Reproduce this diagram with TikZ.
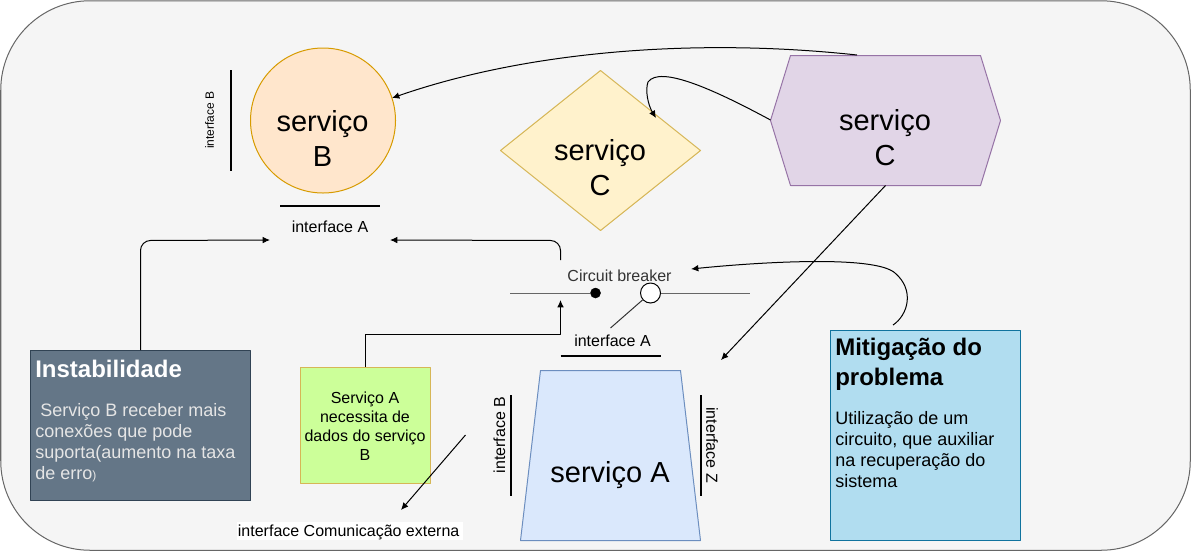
\documentclass[tikz,border=0pt]{standalone}
\usepackage{fontspec}
\setmainfont{Liberation Sans}
\usetikzlibrary{arrows.meta,shapes.geometric}
\definecolor{panelF}{HTML}{F5F5F5}
\definecolor{panelD}{HTML}{666666}
\tikzset{
  x=0.75pt,y=-0.75pt,
  arr/.style={-{Latex[length=5.5pt,width=5pt]},draw=black,line width=0.75pt},
  bar/.style={draw=black,line width=1.5pt},
  wire/.style={draw=panelD,line width=0.75pt},
  lbl/.style={inner sep=0pt,align=center,font=\fontsize{12}{14}\selectfont},
  big/.style={inner sep=0pt,align=center,font=\fontsize{21.75}{26.25}\selectfont},
  box/.style={draw,line width=0.75pt,inner sep=0pt,anchor=north west},
}
\begin{document}
\begin{tikzpicture}[line join=round]
\useasboundingbox (0,0) rectangle (1191,551);
\node[box,draw=panelD,fill=panelF,minimum width=1189.5*0.75pt,minimum height=549.5*0.75pt,rounded corners=67pt] (panel) at (0.25,0.25) {};

% services
\node[circle,draw={rgb,255:red,215;green,155;blue,0},fill={rgb,255:red,255;green,230;blue,204},line width=0.75pt,minimum size=145*0.75pt,inner sep=0pt] (svcB) at (323,120.5) {};
\node[big] (svcBt) at (322.5,138) {serviço\\B};
\path[draw={rgb,255:red,214;green,182;blue,86},fill={rgb,255:red,255;green,242;blue,204},line width=0.75pt] (500.5,150.5) -- (600.5,70.5) -- (700.5,150.5) -- (600.5,230.5) -- cycle;
\node[big] (svcCd) at (600,168) {serviço\\C};
\path[draw={rgb,255:red,150;green,115;blue,166},fill={rgb,255:red,225;green,213;blue,231},line width=0.75pt] (770.5,120.5) -- (790.5,55.5) -- (980.5,55.5) -- (1000.5,120.5) -- (980.5,185.5) -- (790.5,185.5) -- cycle;
\node[big] (svcCh) at (885,138) {serviço\\C};
\path[draw={rgb,255:red,108;green,142;blue,191},fill={rgb,255:red,218;green,232;blue,252},line width=0.75pt] (540.5,370.5) -- (680.5,370.5) -- (700.5,540.5) -- (520.5,540.5) -- cycle;
\node[big] (svcA) at (610,475) {serviço A};

% text boxes
\node[box,draw={rgb,255:red,49;green,67;blue,84},fill={rgb,255:red,100;green,118;blue,135},minimum width=220*0.75pt,minimum height=150*0.75pt] (inst) at (30,350) {};
\node[anchor=north west,inner sep=0pt,text=white,font=\bfseries\fontsize{18}{22}\selectfont] (instT) at (35,360) {Instabilidade};
\node[anchor=north west,inner sep=0pt,text=white!90!black,align=left,font=\fontsize{13.5}{15.75}\selectfont] (instB) at (35,403) {\ Serviço B receber mais\\conexões que pode\\suporta(aumento na taxa\\de erro{\fontsize{9}{9}\selectfont)}};
\node[box,draw={rgb,255:red,214;green,182;blue,86},fill={rgb,255:red,204;green,255;blue,153},minimum width=130*0.75pt,minimum height=116*0.75pt] (need) at (300,367) {};
\node[lbl,font=\fontsize{12}{14.1}\selectfont] (needT) at (365,426) {Serviço A\\necessita de\\dados do serviço\\B};
\node[box,draw={rgb,255:red,16;green,115;blue,158},fill={rgb,255:red,177;green,221;blue,240},minimum width=190*0.75pt,minimum height=210*0.75pt] (mit) at (830,330) {};
\node[anchor=north west,inner sep=0pt,align=left,font=\bfseries\fontsize{18}{22.5}\selectfont] (mitT) at (835,338) {Mitigação do\\problema};
\node[anchor=north west,inner sep=0pt,align=left,font=\fontsize{13.5}{15.75}\selectfont] (mitB) at (835,411) {Utilização de um\\circuito, que auxiliar\\na recuperação do\\sistema};

% interface labels and bars
\coordinate (b1a) at (230.5,70); \coordinate (b1b) at (230.5,170.5);
\draw[bar] (b1a) -- (b1b);
\node[lbl,rotate=90,font=\fontsize{9}{11}\selectfont] (ifBtop) at (209.5,120) {interface B};
\coordinate (b2a) at (280,205.5); \coordinate (b2b) at (380,205.5);
\draw[bar] (b2a) -- (b2b);
\node[lbl] (ifAtop) at (330,226.5) {interface A};
\node[lbl,text=black!80] (cb) at (619.5,275.5) {Circuit breaker};
\coordinate (w1) at (510,293);
\coordinate (w2) at (750,293);
\node[circle,fill=black,draw=black,minimum size=10*0.75pt,inner sep=0pt] (dot) at (595.5,293) {};
\node[circle,fill=white,draw=black,line width=0.75pt,minimum size=20*0.75pt,inner sep=0pt] (open) at (650.5,293) {};
\draw[wire] (w1) -- (dot);
\draw[wire] (open) -- (w2);
\coordinate (w3) at (610.5,328);
\draw[draw=black!80,line width=0.75pt] (w3) -- (open);
\node[lbl] (ifAlow) at (612.5,340.5) {interface A};
\coordinate (b3a) at (560.5,355.5); \coordinate (b3b) at (660.5,355.5);
\draw[bar] (b3a) -- (b3b);
\coordinate (b4a) at (510.5,395); \coordinate (b4b) at (510.5,495.5);
\draw[bar] (b4a) -- (b4b);
\node[lbl,rotate=90] (ifBlow) at (499.5,435) {interface B};
\coordinate (b5a) at (700.5,395); \coordinate (b5b) at (700.5,495.5);
\draw[bar] (b5a) -- (b5b);
\node[lbl,rotate=-90] (ifZ) at (712,445) {interface Z};
\node[lbl,fill=white,inner ysep=2.5pt,inner xsep=1pt,text depth=0pt] (ext) at (350,531) {interface Comunicação externa\hspace{2pt}};

% connectors
\coordinate (s1) at (140.5,350); \coordinate (t1) at (270,240);
\draw[arr,rounded corners=7.5pt] (s1) -- (140.5,240.5) -- (t1);
\coordinate (s2) at (560.5,260); \coordinate (t2) at (390,240);
\draw[arr,rounded corners=7.5pt] (s2) -- (560.5,240.5) -- (t2);
\coordinate (s3) at (365.5,367); \coordinate (t3) at (560.5,300);
\draw[arr] (s3) -- (365.5,334.5) -- (560.5,334.5) -- (t3);
\coordinate (s4) at (857,55); \coordinate (t4) at (392,98);
\draw[arr] (s4) .. controls (700,38) and (530,50) .. (t4);
\coordinate (s5) at (770.5,120); \coordinate (t5) at (656,118);
\draw[arr] (s5) .. controls (715,90) and (660,65) .. (648,82) .. controls (645,90) and (648,105) .. (t5);
\coordinate (s6) at (885.5,185.5); \coordinate (t6) at (721,360);
\draw[arr] (s6) -- (t6);
\coordinate (s7) at (893,325); \coordinate (t7) at (691,269);
\draw[arr] (s7) .. controls (908,315) and (915,290) .. (895,273) .. controls (875,255) and (760,262) .. (t7);
\coordinate (s8) at (465.5,435); \coordinate (t8) at (401,510);
\draw[arr] (s8) -- (t8);
\end{tikzpicture}
\end{document}
